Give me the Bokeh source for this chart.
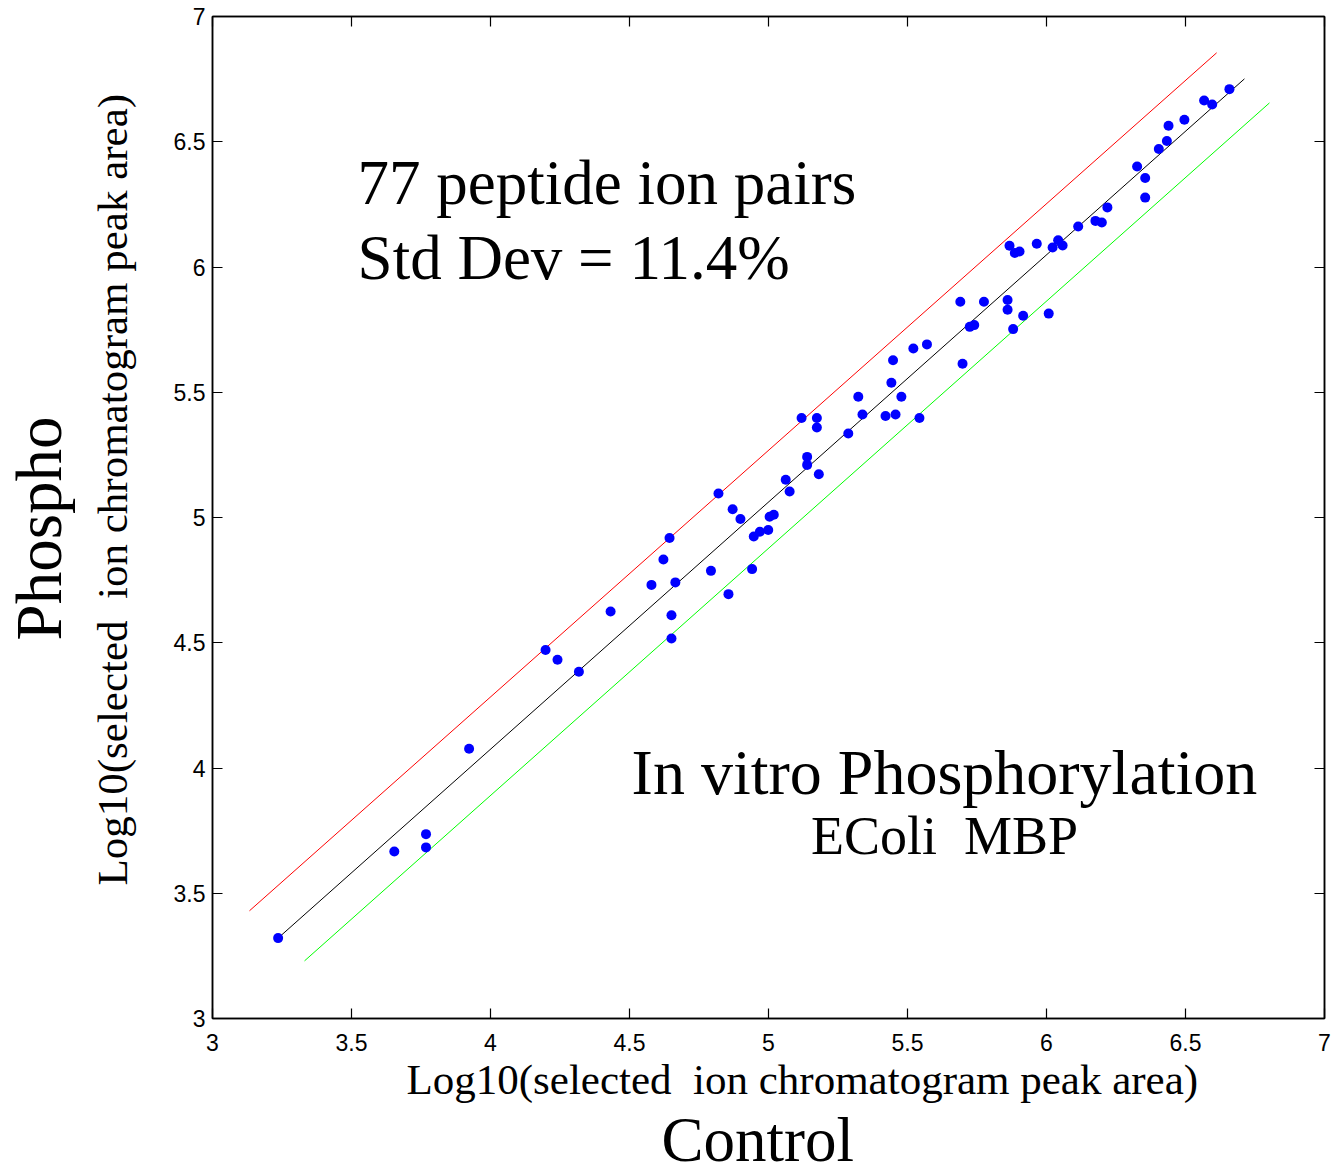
import math
from bokeh.plotting import figure
from bokeh.models import (Range1d, FixedTicker, LinearAxis, Label, Title,
                          CustomLabelingPolicy)
from bokeh.embed import file_html
from bokeh.resources import INLINE

# ---- data (log10 peak areas) ----
control = [3.236, 3.654, 3.768, 3.768, 3.923, 4.198, 4.241, 4.318, 4.432, 4.644,
           4.622, 4.579, 4.665, 4.651, 4.651, 4.793, 4.856, 4.820, 4.871, 4.899,
           4.941, 4.947, 4.969, 4.999, 5.004, 5.019, 5.062, 5.076, 5.119, 5.139,
           5.139, 5.181, 5.174, 5.174, 5.287, 5.323, 5.338, 5.421, 5.457, 5.478,
           5.442, 5.448, 5.543, 5.521, 5.570, 5.698, 5.724, 5.740, 5.690, 5.775,
           5.860, 5.860, 5.880, 5.916, 6.008, 5.867, 5.886, 5.903, 5.965, 6.022,
           6.042, 6.058, 6.114, 6.176, 6.199, 6.219, 6.326, 6.355, 6.355, 6.404,
           6.433, 6.439, 6.496, 6.567, 6.596, 6.658]
phospho = [3.321, 3.667, 3.736, 3.683, 4.077, 4.471, 4.432, 4.384, 4.625, 4.918,
           4.832, 4.731, 4.741, 4.610, 4.517, 4.787, 4.694, 5.096, 5.033, 4.994,
           4.794, 4.924, 4.943, 4.950, 5.003, 5.011, 5.151, 5.104, 5.397, 5.242,
           5.210, 5.173, 5.397, 5.359, 5.335, 5.482, 5.411, 5.405, 5.411, 5.482,
           5.538, 5.628, 5.397, 5.675, 5.691, 5.614, 5.761, 5.768, 5.861, 5.861,
           5.868, 5.829, 5.752, 5.805, 5.814, 6.085, 6.056, 6.062, 6.093, 6.078,
           6.107, 6.086, 6.162, 6.184, 6.178, 6.238, 6.401, 6.355, 6.277, 6.471,
           6.503, 6.564, 6.588, 6.665, 6.649, 6.710]

fit_x = [3.237, 6.712]
fit_y = [3.322, 6.751]
upper_x = [3.133, 6.612]
upper_y = [3.430, 6.855]
lower_x = [3.331, 6.802]
lower_y = [3.230, 6.655]

tick_values = [3, 3.5, 4, 4.5, 5, 5.5, 6, 6.5, 7]
tick_labels = ["3", "3.5", "4", "4.5", "5", "5.5", "6", "6.5", "7"]

axis_title = "Log10(selected \u00a0ion chromatogram peak area)"

p = figure(frame_width=1112, frame_height=1002,
           x_range=Range1d(3, 7), y_range=Range1d(3, 7),
           output_backend="svg", toolbar_location=None,
           min_border_left=212, min_border_right=8,
           min_border_top=16, min_border_bottom=154)
p.xgrid.visible = False
p.ygrid.visible = False
p.outline_line_color = "black"
p.outline_line_width = 1.5
p.background_fill_color = "white"
p.border_fill_color = "white"

p.add_layout(LinearAxis(), "right")
p.add_layout(LinearAxis(), "above")

overrides = {v: t for v, t in zip(tick_values, tick_labels)}


def style(ax, show, standoff):
    ax.ticker = FixedTicker(ticks=tick_values)
    ax.major_tick_in = 10
    ax.major_tick_out = 0
    ax.minor_tick_in = 0
    ax.minor_tick_out = 0
    ax.axis_line_color = "black"
    ax.axis_line_width = 1.5
    ax.major_tick_line_color = "black"
    ax.major_tick_line_width = 1.2
    ax.major_label_text_font = "Liberation Sans"
    ax.major_label_text_color = "black"
    ax.major_label_text_font_size = "23px" if show else "0px"
    ax.major_label_standoff = standoff
    ax.major_label_overrides = overrides
    if not show:
        # mirrored MATLAB-style box ticks: keep the ticks, draw no labels
        ax.major_label_policy = CustomLabelingPolicy(code="return []")


style(p.below[0], True, 15)
style(p.left[0], True, 7)
style(p.right[0], False, 0)
style(p.above[0], False, 0)

p.line(upper_x, upper_y, line_color="#ff0000", line_width=1)
p.line(lower_x, lower_y, line_color="#00ff00", line_width=1)
p.line(fit_x, fit_y, line_color="black", line_width=1)
p.scatter(control, phospho, size=10, fill_color="#0000ff", line_color=None)

serif = "Liberation Serif"


def lab(x, y, text, size, align="left"):
    p.add_layout(Label(x=x, y=y, text=text, text_font=serif,
                       text_font_size=size, text_color="black",
                       text_align=align, text_baseline="alphabetic"))


lab(3.522, 6.336, "77 peptide ion pairs", "63px")
lab(3.522, 6.037, "Std Dev = 11.4%", "63px")
lab(5.633, 3.983, "In vitro Phosphorylation", "64px", "center")
lab(5.633, 3.728, "EColi \u00a0MBP", "54px", "center")


def side_title(text, size, offset, standoff, side, valign="bottom"):
    t = Title(text=text, text_font=serif, text_font_size=size,
              text_font_style="normal", text_color="black",
              align="left", offset=offset, standoff=standoff,
              vertical_align=valign)
    p.add_layout(t, side)


side_title(axis_title, "43px", 194, 0, "below")
side_title("Control", "63px", 449, 0, "below")
# thin spacer between the tick labels and the vertical axis title
side_title(" ", "1px", 0, 17, "left", "top")
side_title(axis_title, "43px", 133, 25, "left", "top")
side_title("Phospho", "65px", 378, 0, "left", "top")

open("out.html", "w").write(file_html(p, INLINE))
